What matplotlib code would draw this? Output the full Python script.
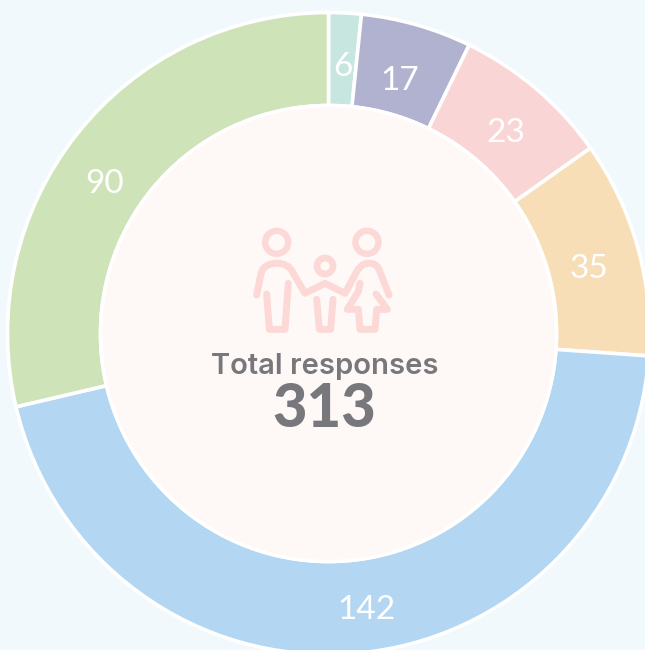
import math
import matplotlib
matplotlib.use("Agg")
import matplotlib.pyplot as plt
from matplotlib.patches import Circle, PathPatch
from matplotlib.path import Path

# labelled counts, and the arc each slice really occupies in the picture (degrees)
labels = ["6", "17", "23", "35", "142", "90"]
arc_degrees = [5.9, 20.1, 28.7, 39.3, 162.8, 103.2]
colors = ["#c8e6e0", "#b1b2cf", "#f9d6d5", "#f7deb6", "#b3d7f2", "#cfe3b8"]
label_nudge_px = [(0, 5), (-4, 9), (1, 7), (-1, 9), (16, 5), (-11, 19)]
total_label = "Total responses"
total_value = "313"

W, H = 645, 650
BG = "#f1f9fd"; HOLE = "#fef8f6"; ICON = "#fcd9d6"; TXT = "#77777c"
CX, CY = 328.5, H - 333.5
R_OUT, R_IN = 321, 228

fig = plt.figure(figsize=(W / 100, H / 100), dpi=100, facecolor=BG)
ax = fig.add_axes([0, 0, 1, 1])
ax.pie(arc_degrees, colors=colors, startangle=90, counterclock=False,
       center=(CX, CY), radius=R_OUT,
       wedgeprops=dict(width=R_OUT - R_IN, edgecolor="white", linewidth=2.6))
ax.set_xlim(0, W); ax.set_ylim(0, H); ax.set_aspect("equal"); ax.axis("off")
ax.add_patch(Circle((CX, CY), R_IN, fc=HOLE, ec="white", lw=2.6, zorder=3))

cum = 0
r_lab = 272
for v, lab, (nx, ny) in zip(arc_degrees, labels, label_nudge_px):
    a = math.radians(cum + v / 2)
    cum += v
    ax.annotate(lab, xy=(CX + r_lab * math.sin(a), CY + r_lab * math.cos(a)),
                xytext=(nx * 0.72, -ny * 0.72), textcoords="offset points", color="white",
                fontsize=24, family="Lato", fontweight="normal",
                ha="center", va="center", zorder=4)

ax.text(324.5, H - 366, total_label, color=TXT, fontsize=21, family="Inter", fontweight="semibold",
        ha="center", va="center", zorder=5)
ax.text(324, H - 409, total_value, color=TXT, fontsize=43, family="Lato", fontweight="black",
        ha="center", va="center", zorder=5)

# family icon (decoration), coordinates are 3x-zoom pixels of the icon box
def Z(x, y):
    return 230 + x / 3, H - (210 + y / 3)

def stroke(cmds):
    verts, codes = [], []
    for c, pts in cmds:
        for p in pts:
            verts.append(Z(*p)); codes.append(c)
    ax.add_patch(PathPatch(Path(verts, codes), fc="none", ec=ICON, lw=5,
                           capstyle="round", joinstyle="round", zorder=4))

M, L, Q = Path.MOVETO, Path.LINETO, Path.CURVE3
def ring(x, y, r, lw):
    cx, cy = Z(x, y)
    ax.add_patch(Circle((cx, cy), r, fc="none", ec=ICON, lw=lw, zorder=4))

ring(140, 97, 11.5, 4.6)
ring(411, 97, 11.5, 4.6)
ring(285, 168, 8, 4.8)
stroke([(M, [(80, 255)]), (L, [(92, 195)]), (Q, [(98, 160), (140, 160)]), (Q, [(175, 158), (190, 190)]),
        (L, [(225, 250), (285, 220), (345, 250), (380, 185)]), (Q, [(395, 158), (420, 160)]),
        (Q, [(440, 160), (448, 180)]), (L, [(477, 255)])])
stroke([(M, [(110, 252)]), (L, [(118, 358), (165, 358), (175, 220)])])
stroke([(M, [(260, 268)]), (L, [(268, 358), (302, 358), (309, 268)])])
stroke([(M, [(390, 220)]), (L, [(385, 245), (352, 298), (385, 298), (390, 358), (435, 358), (440, 298), (472, 298), (438, 252)])])

fig.savefig("out.png", dpi=100, facecolor=BG)
